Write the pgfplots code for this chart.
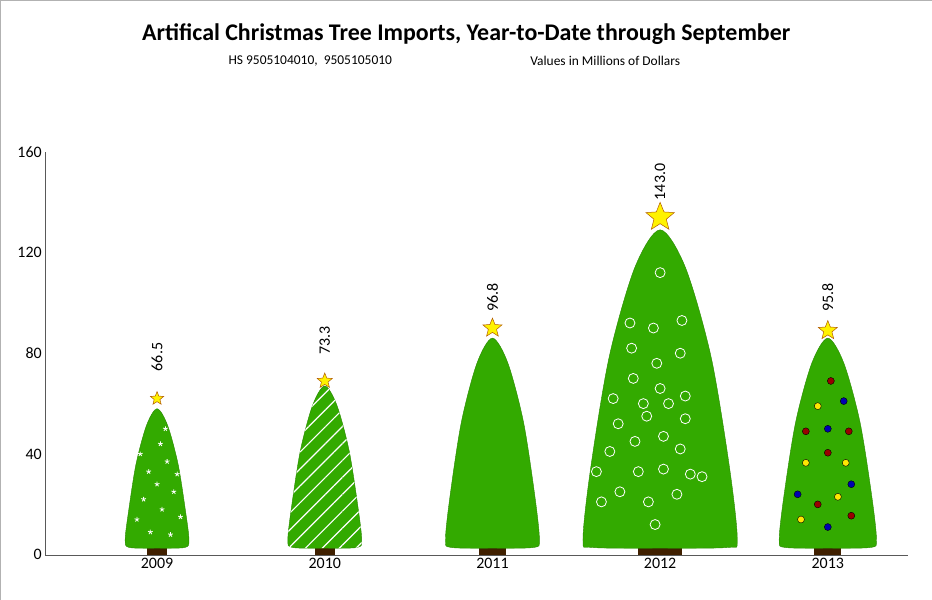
\documentclass[border=0pt]{standalone}
\usepackage{pgfplots}
\pgfplotsset{compat=1.18}
\usepackage{fontspec}
\setmainfont{Carlito}
\usetikzlibrary{shapes.geometric,patterns.meta}
\definecolor{tg}{RGB}{51,170,0}
\definecolor{trunk}{RGB}{64,32,0}
\pgfdeclareplotmark{fstar}{\node[star,star points=5,star point ratio=2.3,fill=yellow,draw=orange!70!black,line width=0.5pt,minimum size=2*\pgfplotmarksize,inner sep=0pt]{};}
\newcommand\tree[4]{% x, halfwidth, apex, extra options
\pgfmathsetmacro\xa{#1-0.88*#2}\pgfmathsetmacro\xb{#1-#2}\pgfmathsetmacro\xc{#1-0.9*#2}\pgfmathsetmacro\xd{#1-0.66*#2}\pgfmathsetmacro\xe{#1-0.33*#2}
\pgfmathsetmacro\xA{#1+0.88*#2}\pgfmathsetmacro\xB{#1+#2}\pgfmathsetmacro\xC{#1+0.9*#2}\pgfmathsetmacro\xD{#1+0.66*#2}\pgfmathsetmacro\xE{#1+0.33*#2}
\pgfmathsetmacro\yc{3+(#3-3)*0.25}\pgfmathsetmacro\yd{3+(#3-3)*0.6}\pgfmathsetmacro\ye{3+(#3-3)*0.88}
\edef\temp{\noexpand\addplot[draw=tg!80!black,fill=tg,smooth,tension=0.5,#4] coordinates {(#1,2.6) (\xa,2.9) (\xb,6) (\xc,\yc) (\xd,\yd) (\xe,\ye) (#1,#3) (\xE,\ye) (\xD,\yd) (\xC,\yc) (\xB,6) (\xA,2.9) (#1,2.6)};}\temp}
\begin{document}
\begin{tikzpicture}[x=1bp,y=1bp]
\draw[gray!60] (-45,-45) rectangle (886.5,554.5);
\node[font=\bfseries\fontsize{24}{28}\selectfont] at (421,521) {Artifical Christmas Tree Imports, Year-to-Date through September};
\node[font=\fontsize{13.5}{16}\selectfont] at (265,494) {HS 9505104010,\ \ 9505105010};
\node[font=\fontsize{13.5}{16}\selectfont] at (560,494) {Values in Millions of Dollars};
\begin{axis}[at={(0,0)},anchor=south west,scale only axis,width=863bp,height=403bp,
 xmin=-0.667,xmax=4.48,ymin=0,ymax=160,
 axis lines=left,axis line style={-,gray!70!black},
 xtick={0,1,2,3,4},xticklabels={2009,2010,2011,2012,2013},
 ytick={0,40,80,120,160},
 tick label style={font=\fontsize{16}{18}\selectfont},
 /pgf/number format/assume math mode=true,
 major tick length=0pt,clip=false]
% trunks
\addplot[fill=trunk,draw=none] coordinates {(-0.06,0)(-0.06,3)(0.06,3)(0.06,0)};
\addplot[fill=trunk,draw=none] coordinates {(0.94,0)(0.94,3)(1.06,3)(1.06,0)};
\addplot[fill=trunk,draw=none] coordinates {(1.92,0)(1.92,3.5)(2.08,3.5)(2.08,0)};
\addplot[fill=trunk,draw=none] coordinates {(2.87,0)(2.87,5)(3.13,5)(3.13,0)};
\addplot[fill=trunk,draw=none] coordinates {(3.92,0)(3.92,3.5)(4.08,3.5)(4.08,0)};
% trees
\tree{0}{0.19}{58}{}
\tree{1}{0.22}{67}{}
\tree{1}{0.22}{67}{draw=none,fill=none,pattern={Lines[angle=45,distance=12pt,line width=1.2pt]},pattern color=white}
\tree{2}{0.28}{86}{}
\tree{3}{0.46}{129}{}
\tree{4}{0.29}{86}{}
% 2009 stars
\addplot[only marks,mark=star,white,thick,mark size=2.5pt] coordinates {(0.02,44)(0.06,37)(-0.05,33)(0.1,25)(-0.08,22)(0.03,18)(0.14,15)(-0.12,14)(0.08,8)(-0.04,9)(0.0,28)(0.12,32)(-0.1,40)(0.05,50)};
% 2012 spirals
\addplot[only marks,mark=o,white,thick,mark size=5pt] coordinates {(3,112)(2.82,92)(3.13,93)(2.96,90)(2.83,82)(3.12,80)(2.98,76)(2.84,70)(3.0,66)(3.15,63)(2.72,62)(2.9,60)(3.05,60)(2.75,52)(2.92,55)(3.15,54)(2.85,45)(3.02,47)(3.12,42)(2.7,41)(2.87,33)(3.02,34)(3.18,32)(2.62,33)(2.76,25)(3.1,24)(2.93,21)(2.65,21)(3.25,31)(2.97,12)};
% 2013 ornaments
\addplot[only marks,mark=*,mark size=3.5pt,draw=none,fill=red!60!black] coordinates {(4.018,69)(3.869,49)(4.125,49)(4,40.5)(3.94,20)(4.14,15.5)};
\addplot[only marks,mark=*,mark size=3.5pt,draw=none,fill=yellow!90!orange] coordinates {(3.94,59)(3.869,36.5)(4.107,36.5)(4.06,23)(3.84,14)};
\addplot[only marks,mark=*,mark size=3.5pt,draw=none,fill=blue!70!black] coordinates {(4.095,61)(4,50)(3.82,24)(4.14,28)(4,11)};
% stars
\addplot[only marks,mark=fstar,mark size=7pt] coordinates {(0,62)};
\addplot[only marks,mark=fstar,mark size=8pt] coordinates {(1,69)};
\addplot[only marks,mark=fstar,mark size=10pt] coordinates {(2,90)(4,89)};
\addplot[only marks,mark=fstar,mark size=15pt] coordinates {(3,134)};
% value labels
\addplot[only marks,mark=none,nodes near coords,point meta=explicit symbolic,
 nodes near coords style={rotate=90,anchor=center,font=\fontsize{16}{18}\selectfont}]
 table[meta=l] {
x y l
0 78.5 66.5
1 85 73.3
2 102 96.8
3 148 143.0
4 102 95.8
};
\end{axis}
\end{tikzpicture}
\end{document}
